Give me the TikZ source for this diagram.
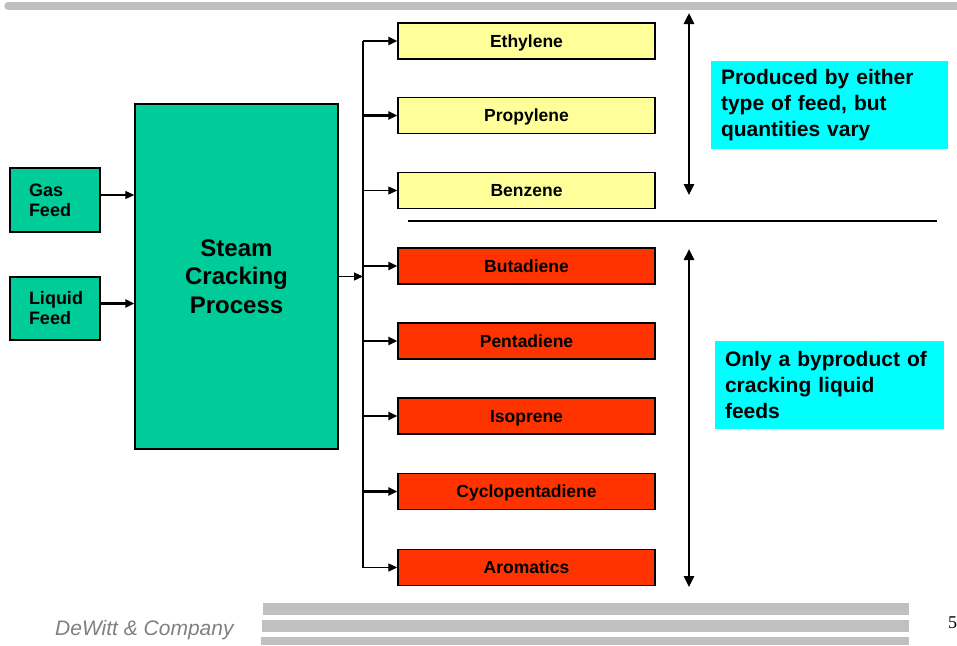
\documentclass[tikz,border=0pt]{standalone}
\usepackage{fontspec}
\setmainfont{Liberation Sans}
\newfontfamily\serifnum{Liberation Serif}
\usetikzlibrary{arrows.meta}
\definecolor{procgreen}{RGB}{0,204,153}
\definecolor{prodyellow}{RGB}{255,255,153}
\definecolor{prodred}{RGB}{255,51,0}
\definecolor{notecyan}{RGB}{0,255,255}
\definecolor{bargrey}{RGB}{192,192,192}
\definecolor{footgrey}{RGB}{128,128,128}
\begin{document}
\begin{tikzpicture}[x=1pt,y=-1pt,
  box/.style={draw=black, line width=1.4pt, inner sep=0pt},
  feedbox/.style={box, fill=procgreen, minimum width=90pt, text width=52pt, align=left,
    font=\fontsize{18}{20}\selectfont\bfseries},
  procbox/.style={box, fill=procgreen, minimum width=203pt, minimum height=345pt, align=center,
    font=\fontsize{24}{28.5}\selectfont\bfseries},
  prodbox/.style={box, minimum width=257pt, minimum height=36pt, text height=12pt, text depth=0pt,
    font=\fontsize{17.5}{19}\selectfont\bfseries},
  yellowbox/.style={prodbox, fill=prodyellow},
  redbox/.style={prodbox, fill=prodred},
  notebox/.style={fill=notecyan, inner sep=0pt, minimum height=88pt, align=left,
    font=\fontsize{21}{26}\selectfont\bfseries},
  arrthick/.style={-{Triangle[length=9pt,width=8pt]}, line width=2.3pt},
  arrthin/.style={-{Triangle[length=9pt,width=8pt]}, line width=1.1pt},
  busline/.style={line width=1.5pt},
  span/.style={{Triangle[length=11pt,width=10pt]}-{Triangle[length=11pt,width=10pt]}, line width=2.5pt},
  sepline/.style={line width=1.6pt},
  footbar/.style={fill=bargrey}
]
\useasboundingbox (0,0) rectangle (957,645);

% header bar
\draw[bargrey, line width=7.5pt, line cap=round] (8,5.75) -- (965,5.75);

% feeds and process
\node[feedbox, minimum height=64pt] (gas) at (55,200) {Gas\\Feed};
\node[feedbox, minimum height=63pt] (liquid) at (55,308.5) {Liquid\\Feed};
\node[procbox] (steam) at (236.5,276.5) {\raisebox{-2pt}{\parbox{200pt}{\centering Steam\\Cracking\\Process}}};

% products
\node[yellowbox] (ethylene) at (526.5,41) {Ethylene};
\node[yellowbox] (propylene) at (526.5,115.5) {Propylene};
\node[yellowbox] (benzene) at (526.5,190.5) {Benzene};
\node[redbox] (butadiene) at (526.5,266) {Butadiene};
\node[redbox] (pentadiene) at (526.5,341) {Pentadiene};
\node[redbox] (isoprene) at (526.5,416) {Isoprene};
\node[redbox] (cyclo) at (526.5,491.5) {Cyclopentadiene};
\node[redbox] (aromatics) at (526.5,567.5) {Aromatics};

% feed arrows
\draw[arrthin] ([yshift=5pt]gas.east) -- ([yshift=5pt]gas.east -| steam.west);
\draw[arrthick] ([yshift=5pt]liquid.east) -- ([yshift=5pt]liquid.east -| steam.west);

% bus
\coordinate (bustop) at (363,41);
\coordinate (busbot) at (363,567.5);
\draw[busline] (bustop) -- (busbot);
\draw[arrthin] (steam.east) -- (steam.east -| bustop);

\draw[arrthick] (ethylene.west -| bustop) -- (ethylene.west);
\draw[arrthick] (propylene.west -| bustop) -- (propylene.west);
\draw[arrthin] (benzene.west -| bustop) -- (benzene.west);
\draw[arrthick] (butadiene.west -| bustop) -- (butadiene.west);
\draw[arrthick] (pentadiene.west -| bustop) -- (pentadiene.west);
\draw[arrthick] (isoprene.west -| bustop) -- (isoprene.west);
\draw[arrthick] (cyclo.west -| bustop) -- (cyclo.west);
\draw[arrthin] (aromatics.west -| bustop) -- (aromatics.west);

% span arrows and separator
\coordinate (span1a) at (689,13);
\coordinate (span1b) at (689,195);
\coordinate (span2a) at (689,249);
\coordinate (span2b) at (689,587);
\draw[span] (span1a) -- (span1b);
\draw[span] (span2a) -- (span2b);
\coordinate (sepa) at (408,221);
\coordinate (sepb) at (937,221);
\draw[sepline] (sepa) -- (sepb);

% notes
\node[notebox, minimum width=237pt, text width=217pt] (note1) at (829.5,105)
  {Produced by either\\type of feed, but\\quantities vary};
\node[notebox, minimum width=229pt, text width=209pt] (note2) at (829.5,385)
  {Only a byproduct of\\cracking liquid\\feeds};

% footer
\fill[footbar] (263,603) rectangle (909,615);
\fill[footbar] (262,620) rectangle (909,632);
\fill[footbar] (261,637) rectangle (909,645);
\node[anchor=west, inner sep=0pt, text=footgrey, font=\fontsize{21}{24}\selectfont\itshape] (company) at (55,630) {DeWitt \& Company};
\node[anchor=west, inner sep=0pt, font=\fontsize{18}{20}\selectfont\serifnum] (pagenum) at (948,623) {5};
\end{tikzpicture}
\end{document}
